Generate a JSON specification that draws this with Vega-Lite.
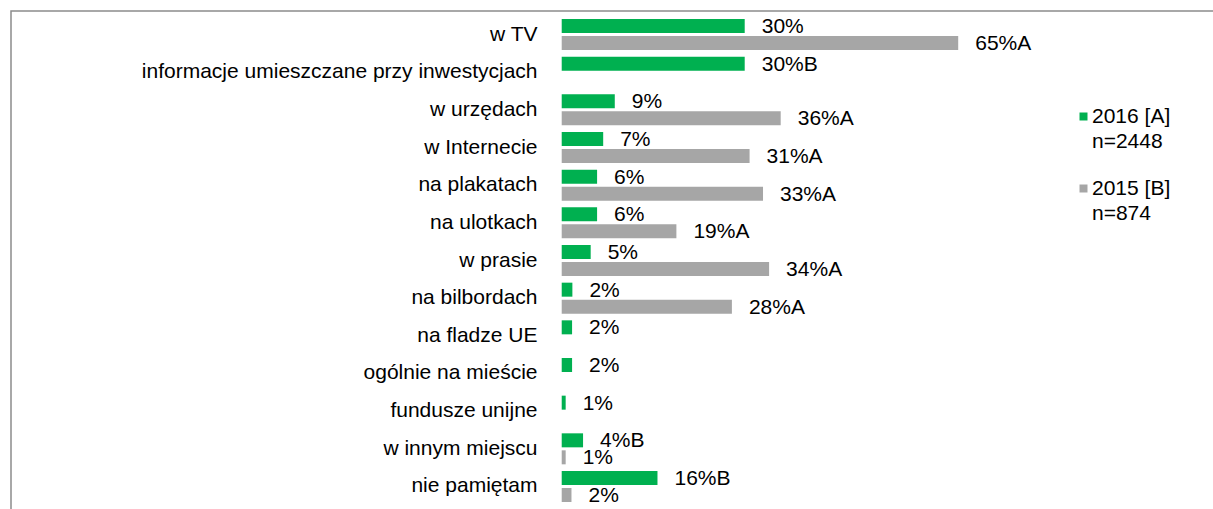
{
  "$schema": "https://vega.github.io/schema/vega-lite/v6.json",
  "width": 1220,
  "height": 499,
  "autosize": {"type": "none"},
  "padding": {"left": 11, "top": 11, "right": 0, "bottom": 0},
  "background": "white",
  "config": {
    "font": "Liberation Sans",
    "view": {"stroke": "#8c8c8c", "strokeWidth": 1.5},
    "text": {"font": "Liberation Sans"},
    "style": {"guide-label": {"lineHeight": 25}}
  },
  "data": {
    "values": [
      {"kategoria": "w TV", "seria": "2016 [A]", "wartosc": 30, "etykieta": "30%"},
      {"kategoria": "w TV", "seria": "2015 [B]", "wartosc": 65, "etykieta": "65%A"},
      {"kategoria": "informacje umieszczane przy inwestycjach", "seria": "2016 [A]", "wartosc": 30, "etykieta": "30%B"},
      {"kategoria": "w urzędach", "seria": "2016 [A]", "wartosc": 8.7, "etykieta": "9%"},
      {"kategoria": "w urzędach", "seria": "2015 [B]", "wartosc": 35.9, "etykieta": "36%A"},
      {"kategoria": "w Internecie", "seria": "2016 [A]", "wartosc": 6.8, "etykieta": "7%"},
      {"kategoria": "w Internecie", "seria": "2015 [B]", "wartosc": 30.8, "etykieta": "31%A"},
      {"kategoria": "na plakatach", "seria": "2016 [A]", "wartosc": 5.8, "etykieta": "6%"},
      {"kategoria": "na plakatach", "seria": "2015 [B]", "wartosc": 33, "etykieta": "33%A"},
      {"kategoria": "na ulotkach", "seria": "2016 [A]", "wartosc": 5.8, "etykieta": "6%"},
      {"kategoria": "na ulotkach", "seria": "2015 [B]", "wartosc": 18.8, "etykieta": "19%A"},
      {"kategoria": "w prasie", "seria": "2016 [A]", "wartosc": 4.75, "etykieta": "5%"},
      {"kategoria": "w prasie", "seria": "2015 [B]", "wartosc": 34, "etykieta": "34%A"},
      {"kategoria": "na bilbordach", "seria": "2016 [A]", "wartosc": 1.75, "etykieta": "2%"},
      {"kategoria": "na bilbordach", "seria": "2015 [B]", "wartosc": 27.9, "etykieta": "28%A"},
      {"kategoria": "na fladze UE", "seria": "2016 [A]", "wartosc": 1.7, "etykieta": "2%"},
      {"kategoria": "ogólnie na mieście", "seria": "2016 [A]", "wartosc": 1.7, "etykieta": "2%"},
      {"kategoria": "fundusze unijne", "seria": "2016 [A]", "wartosc": 0.65, "etykieta": "1%"},
      {"kategoria": "w innym miejscu", "seria": "2016 [A]", "wartosc": 3.5, "etykieta": "4%B"},
      {"kategoria": "w innym miejscu", "seria": "2015 [B]", "wartosc": 0.65, "etykieta": "1%"},
      {"kategoria": "nie pamiętam", "seria": "2016 [A]", "wartosc": 15.7, "etykieta": "16%B"},
      {"kategoria": "nie pamiętam", "seria": "2015 [B]", "wartosc": 1.6, "etykieta": "2%"}
    ]
  },
  "encoding": {
    "y": {
      "field": "kategoria",
      "type": "nominal",
      "sort": null,
      "scale": {"paddingInner": 0, "paddingOuter": 0.124},
      "axis": {
        "title": null,
        "domain": false,
        "ticks": false,
        "offset": -526,
        "labelPadding": 0,
        "labelFontSize": 21,
        "labelColor": "#000000",
        "labelFont": "Liberation Sans",
        "labelLimit": 600,
        "labelBaseline": "middle"
      }
    },
    "yOffset": {
      "field": "seria",
      "type": "nominal",
      "scale": {"domain": ["2016 [A]", "2015 [B]"], "paddingInner": 0.176, "paddingOuter": 0.196}
    },
    "x": {
      "field": "wartosc",
      "type": "quantitative",
      "scale": {"domain": [-90.28, 109.72], "nice": false, "zero": false},
      "axis": null
    }
  },
  "layer": [
    {
      "mark": {"type": "bar"},
      "encoding": {
        "color": {
          "field": "seria",
          "type": "nominal",
          "scale": {"domain": ["2016 [A]", "2015 [B]"], "range": ["#00B050", "#A6A6A6"]},
          "legend": {
            "title": null,
            "orient": "none",
            "legendX": 1062,
            "legendY": 95,
            "padding": 0,
            "symbolType": "square",
            "symbolSize": 64,
            "symbolStrokeWidth": 0,
            "labelFontSize": 21,
            "labelFont": "Liberation Sans",
            "labelColor": "#000000",
            "labelOffset": -2,
            "labelBaseline": "middle",
            "rowPadding": 25,
            "labelExpr": "datum.label == '2016 [A]' ? ['2016 [A]', 'n=2448'] : ['2015 [B]', 'n=874']"
          }
        }
      }
    },
    {
      "mark": {"type": "text", "align": "left", "baseline": "middle", "dx": 17, "dy": 1, "fontSize": 21, "color": "#000000"},
      "encoding": {"text": {"field": "etykieta"}}
    }
  ]
}
